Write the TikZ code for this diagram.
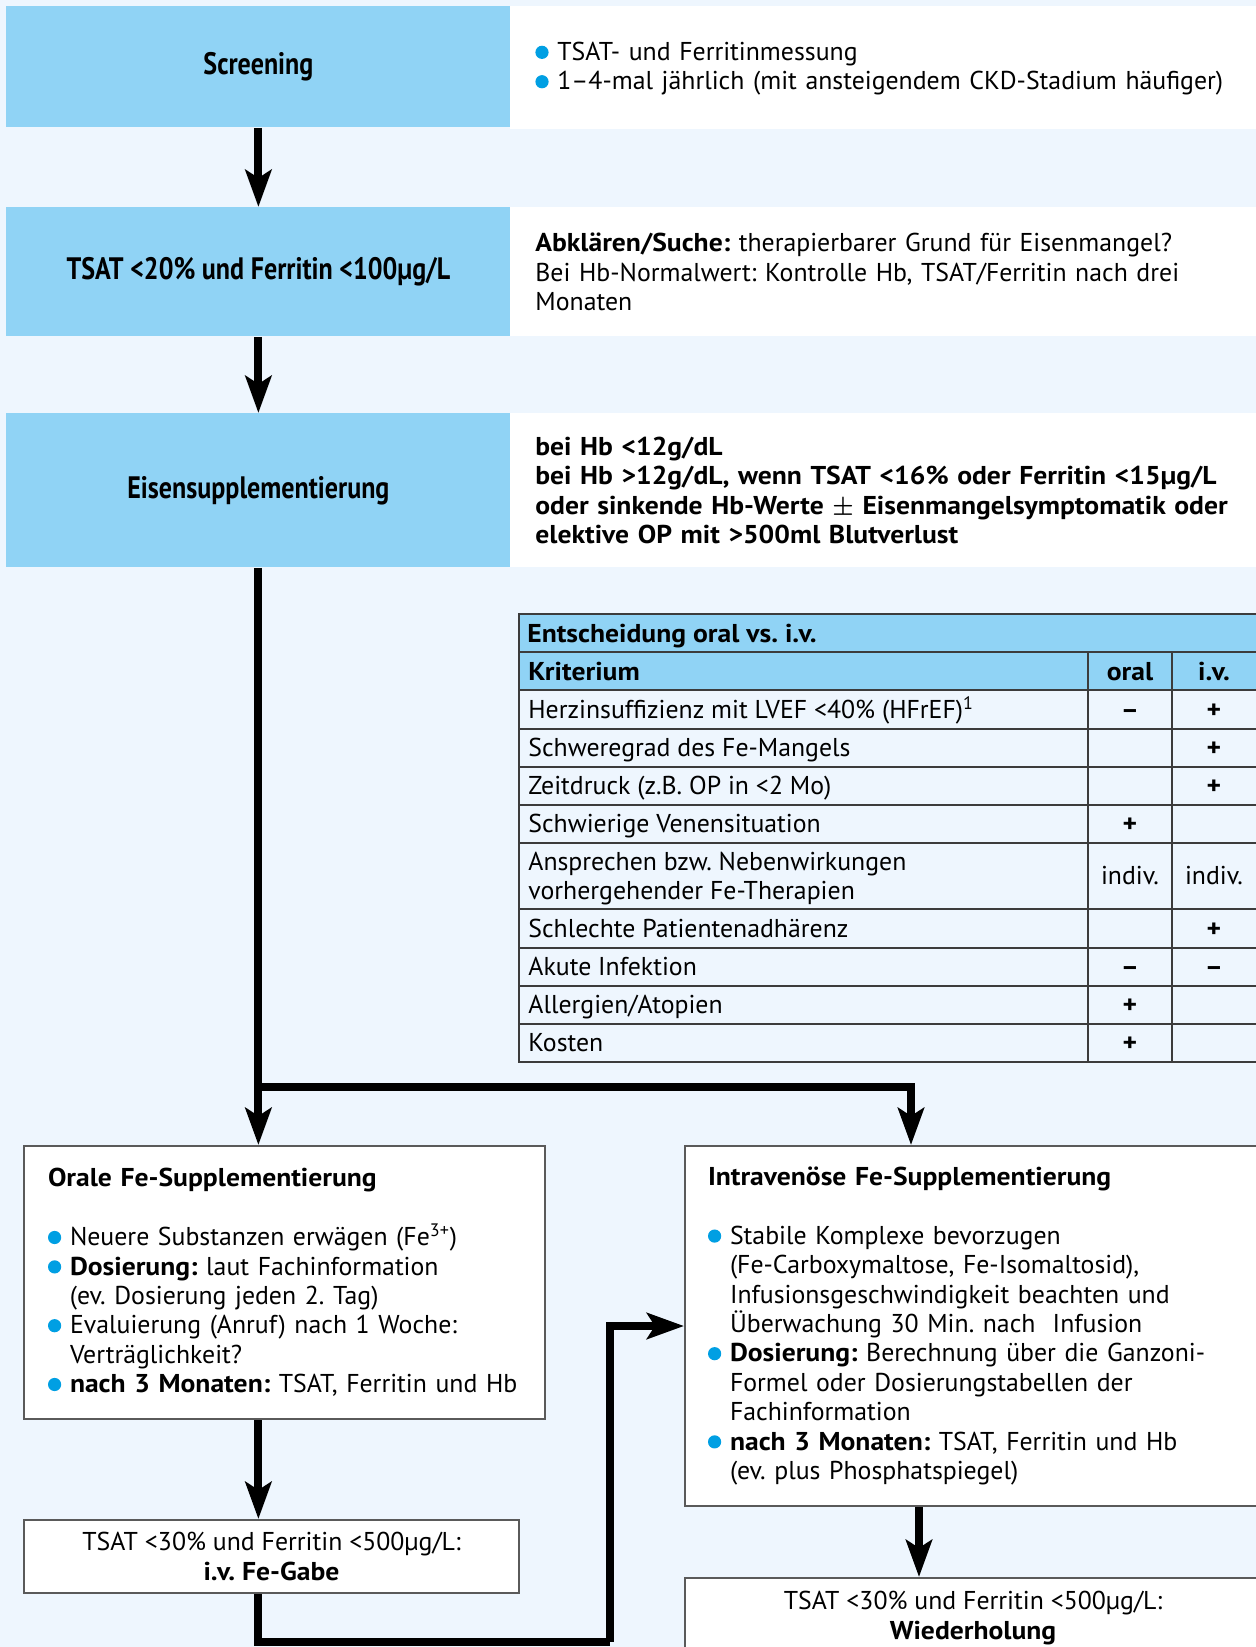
\documentclass[tikz,border=0pt]{standalone}
\usepackage{fontspec}
\usepackage{tikz}
\usepackage{xcolor}
\usetikzlibrary{arrows.meta}
\setmainfont{PT Sans}[BoldFeatures={FakeStretch=1.07}]
\newfontfamily\condfont[FakeStretch=0.84]{PT Sans}
\definecolor{bgblue}{RGB}{238, 246, 254}
\definecolor{boxblue}{RGB}{144, 211, 245}
\definecolor{dotblue}{RGB}{0, 159, 227}
\definecolor{framegray}{RGB}{90, 90, 90}
\definecolor{tablegray}{RGB}{60, 60, 60}
\frenchspacing

\newcommand{\fedot}{\makebox[11pt][l]{\tikz[baseline=0pt]\fill[dotblue] (0pt,4.1pt) circle (3.3pt);}}
\newcommand{\feindent}{\hspace*{11pt}}

\tikzset{
  labelbox/.style={fill=boxblue, anchor=north west, inner sep=0pt, align=center,
    font=\condfont\bfseries\fontsize{15.5}{18}\selectfont},
  infopanel/.style={fill=white, anchor=north west, inner xsep=12.5pt, inner ysep=0pt,
    text width=360pt, align=left, font=\fontsize{12.9}{14.7}\selectfont},
  fecard/.style={draw=framegray, line width=1pt, fill=white, anchor=north west,
    align=left, font=\fontsize{12.9}{14.7}\selectfont},
  resultcard/.style={draw=framegray, line width=1pt, fill=white, anchor=north west,
    align=center, font=\fontsize{12.9}{14.7}\selectfont},
  celltext/.style={anchor=base west, inner sep=0pt, align=left, font=\fontsize{12.9}{14.7}\selectfont},
  markcell/.style={anchor=base, inner sep=0pt, font=\bfseries\fontsize{12.9}{14.7}\selectfont},
  flowline/.style={line width=4pt},
  flowarrow/.style={line width=4pt, -{Stealth[length=18.5pt, width=13pt, inset=4pt]}},
}

\begin{document}
\begin{tikzpicture}[x=0.5pt, y=-0.5pt]
  % page and background
  \clip (0,0) rectangle (1256,1647);
  \fill[bgblue] (0,0) rectangle (1256,1647);

  % Screening
  \node[labelbox, minimum width=252pt, minimum height=60.5pt] (scr) at (6,6) {Screening};
  \node[infopanel, minimum height=60.5pt] (scrtxt) at (510,8)
    {\fedot TSAT- und Ferritinmessung\\
     \fedot 1–4-mal jährlich (mit ansteigendem CKD-Stadium häufiger)};
  \fill[white] (510,6) rectangle (1256,8);

  % TSAT / Ferritin
  \node[labelbox, minimum width=252pt, minimum height=64.5pt] (tsat) at (6,207) {TSAT <20\% und Ferritin <100µg/L};
  \node[infopanel, minimum height=64.5pt] (tsattxt) at (510,207)
    {\textbf{Abklären/Suche:} therapierbarer Grund für Eisenmangel?\\
     Bei Hb-Normalwert: Kontrolle Hb, TSAT/Ferritin nach drei\\
     Monaten};

  % Eisensupplementierung
  \node[labelbox, minimum width=252pt, minimum height=77pt] (eisen) at (6,413) {Eisensupplementierung};
  \node[infopanel, minimum height=77pt, font=\bfseries\fontsize{12.9}{14.7}\selectfont] (eisentxt) at (510,413)
    {bei Hb <12g/dL\\
     bei Hb >12g/dL, wenn TSAT <16\% oder Ferritin <15µg/L\\
     oder sinkende Hb-Werte {\boldmath$\pm$} Eisenmangelsymptomatik oder\\
     elektive OP mit >500ml Blutverlust};

  % Entscheidung oral vs. i.v.
  \fill[boxblue] (519,614) rectangle (1260,690);
  \draw[tablegray, line width=0.75pt] (519,614) rectangle (1260,1062);
  \foreach \y in {652,690,729,767,805,843,909,948,986,1024}
    \draw[tablegray, line width=0.75pt] (519,\y) -- (1260,\y);
  \foreach \x in {1088,1172}
    \draw[tablegray, line width=0.75pt] (\x,652) -- (\x,1062);
  \node[celltext, font=\bfseries\fontsize{12.9}{14.7}\selectfont] (tabtitle) at (527,642) {Entscheidung oral vs. i.v.};
  \node[celltext, font=\bfseries\fontsize{12.9}{14.7}\selectfont] (tabkrit) at (528,680) {Kriterium};
  \node[markcell] (taboral) at (1130,680) {oral};
  \node[markcell] (tabiv) at (1214,680) {i.v.};
  \foreach \yb/\krit/\oral/\iv in {
      718/{Herzinsuffizienz mit LVEF <40\% (HFrEF)\textsuperscript{1}}/–/+,
      756/{Schweregrad des Fe-Mangels}/{}/+,
      794/{Zeitdruck (z.B. OP in <2 Mo)}/{}/+,
      832/{Schwierige Venensituation}/+/{},
      937/{Schlechte Patientenadhärenz}/{}/+,
      975/{Akute Infektion}/–/–,
      1013/{Allergien/Atopien}/+/{},
      1051/{Kosten}/+/{}}
  {
    \node[celltext] at (528,\yb) {\krit};
    \node[markcell] at (1130,\yb) {\oral};
    \node[markcell] at (1214,\yb) {\iv};
  }
  \node[celltext] (ansprechen) at (528,870) {Ansprechen bzw. Nebenwirkungen};
  \node[celltext] (vorher) at (528,899) {vorhergehender Fe-Therapien};
  \node[markcell, font=\fontsize{12.9}{14.7}\selectfont] (indivoral) at (1130,884) {indiv.};
  \node[markcell, font=\fontsize{12.9}{14.7}\selectfont] (indiviv) at (1214,884) {indiv.};

  % Orale und intravenoese Gabe
  \node[fecard, text width=236.5pt, inner xsep=12pt, minimum height=136.5pt] (oral) at (23,1145)
    {\textbf{Orale Fe-Supplementierung}\\[14.7pt]
     \fedot Neuere Substanzen erwägen (Fe\textsuperscript{3+})\\
     \fedot \textbf{Dosierung:} laut Fachinformation\\
     \feindent(ev. Dosierung jeden 2. Tag)\\
     \fedot Evaluierung (Anruf) nach 1 Woche:\\
     \feindent Verträglichkeit?\\
     \fedot \textbf{nach 3 Monaten:} TSAT, Ferritin und Hb};
  \node[fecard, text width=264pt, inner xsep=11.5pt, minimum height=180pt] (iv) at (684,1145)
    {\textbf{Intravenöse Fe-Supplementierung}\\[14.7pt]
     \fedot Stabile Komplexe bevorzugen\\
     \feindent(Fe-Carboxymaltose, Fe-Isomaltosid),\\
     \feindent Infusionsgeschwindigkeit beachten und\\
     \feindent Überwachung 30 Min. nach\ \ Infusion\\
     \fedot \textbf{Dosierung:} Berechnung über die Ganzoni-\\
     \feindent Formel oder Dosierungstabellen der\\
     \feindent Fachinformation\\
     \fedot \textbf{nach 3 Monaten:} TSAT, Ferritin und Hb\\
     \feindent(ev. plus Phosphatspiegel)};

  % Kontrollen
  \node[resultcard, minimum width=247.5pt, minimum height=36.5pt] (gabe) at (23,1519)
    {TSAT <30\% und Ferritin <500µg/L:\\\textbf{i.v. Fe-Gabe}};
  \node[resultcard, minimum width=288pt, minimum height=40pt] (wied) at (684,1577)
    {TSAT <30\% und Ferritin <500µg/L:\\\textbf{Wiederholung}};

  % connectors
  \coordinate (split) at (258,1087);
  \coordinate (loopturn) at (610,1642);
  \draw[flowarrow] (scr) -- (tsat);
  \draw[flowarrow] (tsat) -- (eisen);
  \draw[flowarrow] (eisen.south) -- (eisen.south |- oral.north);
  \draw[flowarrow] (split) -| ([xshift=-30.5pt]iv.north);
  \draw[flowarrow] (eisen.south |- oral.south) -- (eisen.south |- gabe.north);
  \draw[flowline] (eisen.south |- gabe.south) |- (loopturn);
  \draw[flowarrow] (loopturn) |- (iv.west);
  \draw[flowarrow] ([xshift=-26.5pt]iv.south) -- ([xshift=-26.5pt]iv.south |- wied.north);
\end{tikzpicture}
\end{document}
